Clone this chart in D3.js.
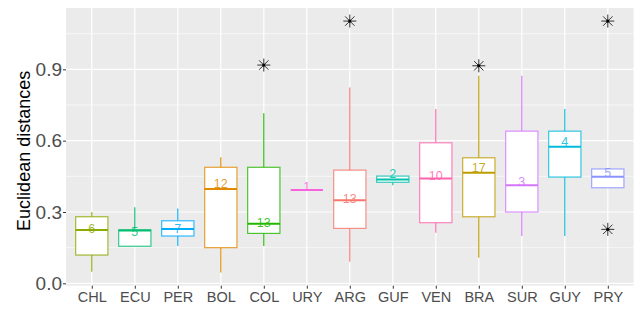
<!DOCTYPE html>
<html>
<head>
<meta charset="utf-8">
<script src="https://cdn.jsdelivr.net/npm/d3@7"></script>
<style>
body { margin: 0; background: #fff; }
svg { display: block; font-family: "Liberation Sans", Arial, sans-serif; }
</style>
</head>
<body>
<svg id="chart" width="640" height="310"></svg>
<script>
// ---- data ----
const categories = ["CHL","ECU","PER","BOL","COL","URY","ARG","GUF","VEN","BRA","SUR","GUY","PRY"];
const whiskerLow  = [0.049, 0.156, 0.157, 0.046, 0.157, 0.392, 0.091, 0.413, 0.213, 0.108, 0.199, 0.199, 0.402];
const q1          = [0.119, 0.156, 0.199, 0.150, 0.210, 0.392, 0.231, 0.425, 0.255, 0.280, 0.300, 0.447, 0.402];
const medians     = [0.224, 0.222, 0.228, 0.397, 0.251, 0.392, 0.349, 0.437, 0.441, 0.465, 0.413, 0.574, 0.448];
const q3          = [0.280, 0.225, 0.263, 0.488, 0.488, 0.392, 0.476, 0.451, 0.591, 0.528, 0.640, 0.640, 0.481];
const whiskerHigh = [0.300, 0.320, 0.315, 0.530, 0.715, 0.392, 0.824, 0.451, 0.733, 0.873, 0.873, 0.733, 0.481];
const countLabels = ["6","5","7","12","13","1","13","2","10","17","3","4","5"];
const labelY      = [0.228, 0.216, 0.230, 0.418, 0.252, 0.404, 0.353, 0.460, 0.452, 0.486, 0.427, 0.595, 0.465];
const outlierCat  = ["COL","ARG","BRA","PRY","PRY"];
const outlierVal  = [0.918, 1.103, 0.915, 1.103, 0.227];
const yTicks      = [0.0, 0.3, 0.6, 0.9];
const yMinor      = [0.15, 0.45, 0.75, 1.05];
const colorOrder  = ["ARG","BOL","BRA","CHL","COL","ECU","GUF","GUY","PER","PRY","SUR","URY","VEN"];
const palette     = ["#F8766D","#E18A00","#BE9C00","#8CAB00","#24B700","#00BE70","#00C1AB","#00BBDA","#00ACFC","#8B93FF","#D575FE","#F962DD","#FF65AC"];

// ---- layout ----
const svg = d3.select("#chart");
const panel = {left: 66, right: 633.6, top: 8, bottom: 285.7};

const x = d3.scalePoint().domain(categories)
  .range([panel.left, panel.right]).padding(0.6);
const step = x.step();
const y = d3.scaleLinear().domain([-0.01, 1.158]).range([panel.bottom, panel.top]);
const color = d3.scaleOrdinal().domain(colorOrder).range(palette);

// background
svg.append("rect").attr("x", panel.left).attr("y", panel.top)
  .attr("width", panel.right - panel.left).attr("height", panel.bottom - panel.top)
  .attr("fill", "#EBEBEB");

// grid
const grid = svg.append("g");
grid.selectAll("line.minor").data(yMinor).join("line")
  .attr("x1", panel.left).attr("x2", panel.right)
  .attr("y1", d => y(d)).attr("y2", d => y(d))
  .attr("stroke", "#fff").attr("stroke-width", 0.6);
grid.selectAll("line.major").data(yTicks).join("line")
  .attr("x1", panel.left).attr("x2", panel.right)
  .attr("y1", d => y(d)).attr("y2", d => y(d))
  .attr("stroke", "#fff").attr("stroke-width", 1.2);
grid.selectAll("line.vmajor").data(categories).join("line")
  .attr("x1", d => x(d)).attr("x2", d => x(d))
  .attr("y1", panel.top).attr("y2", panel.bottom)
  .attr("stroke", "#fff").attr("stroke-width", 1.2);

// axes
const yAxis = svg.append("g").attr("transform", `translate(${panel.left},0)`)
  .call(d3.axisLeft(y).tickValues(yTicks).tickFormat(d3.format(".1f")).tickSize(3).tickPadding(1));
yAxis.select(".domain").remove();
yAxis.selectAll(".tick line").attr("stroke", "#333");
yAxis.selectAll(".tick text").attr("fill", "#4D4D4D").style("font-size", "19px")
  .attr("font-family", null);

const xAxis = svg.append("g").attr("transform", `translate(0,${panel.bottom})`)
  .call(d3.axisBottom(x).tickSize(3).tickPadding(3));
xAxis.select(".domain").remove();
xAxis.selectAll(".tick line").attr("stroke", "#333");
xAxis.selectAll(".tick text").attr("fill", "#4D4D4D").style("font-size", "14.5px")
  .attr("font-family", null);

// y title
svg.append("text")
  .attr("transform", `translate(${24},${(panel.top + panel.bottom) / 2 + 4}) rotate(-90)`)
  .attr("text-anchor", "middle").attr("dominant-baseline", "central")
  .style("font-size", "18px").attr("fill", "#000")
  .text("Euclidean distances");

// boxplots
const bw = step * 0.75;
const rows = categories.map((c, i) => ({
  cat: c, lo: whiskerLow[i], q1: q1[i], med: medians[i], q3: q3[i], hi: whiskerHigh[i],
  label: countLabels[i], ly: labelY[i]
}));

const boxes = svg.append("g").selectAll("g").data(rows).join("g");
boxes.append("line")
  .attr("x1", d => x(d.cat)).attr("x2", d => x(d.cat))
  .attr("y1", d => y(d.q3)).attr("y2", d => y(d.hi))
  .attr("stroke", d => color(d.cat)).attr("stroke-width", 1.1);
boxes.append("line")
  .attr("x1", d => x(d.cat)).attr("x2", d => x(d.cat))
  .attr("y1", d => y(d.lo)).attr("y2", d => y(d.q1))
  .attr("stroke", d => color(d.cat)).attr("stroke-width", 1.1);
boxes.append("rect")
  .attr("x", d => x(d.cat) - bw / 2).attr("width", bw)
  .attr("y", d => y(d.q3)).attr("height", d => Math.max(0, y(d.q1) - y(d.q3)))
  .attr("fill", "#fff").attr("stroke", d => color(d.cat)).attr("stroke-width", 1.2)
  .attr("stroke-opacity", 0.8);
boxes.append("line")
  .attr("x1", d => x(d.cat) - bw / 2).attr("x2", d => x(d.cat) + bw / 2)
  .attr("y1", d => y(d.med)).attr("y2", d => y(d.med))
  .attr("stroke", d => color(d.cat)).attr("stroke-width", 2);
boxes.append("text")
  .attr("x", d => x(d.cat)).attr("y", d => y(d.ly))
  .attr("text-anchor", "middle").attr("dominant-baseline", "central")
  .style("font-size", "12.5px").attr("fill", d => color(d.cat)).attr("fill-opacity", 0.85)
  .text(d => d.label);

// outliers (asterisks)
const outliers = outlierCat.map((c, i) => ({cat: c, v: outlierVal[i]}));
const star = svg.append("g").selectAll("g").data(outliers).join("g")
  .attr("transform", d => `translate(${x(d.cat)},${y(d.v)})`);
const r = 6.5;
const arms = [[-r, 0, r, 0], [0, -r, 0, r],
  [-r * 0.72, -r * 0.72, r * 0.72, r * 0.72], [-r * 0.72, r * 0.72, r * 0.72, -r * 0.72]];
arms.forEach(a => {
  star.append("line").attr("x1", a[0]).attr("y1", a[1]).attr("x2", a[2]).attr("y2", a[3])
    .attr("stroke", "#333").attr("stroke-width", 1);
});
star.append("circle").attr("r", 1.6).attr("fill", "#000");
</script>
</body>
</html>
